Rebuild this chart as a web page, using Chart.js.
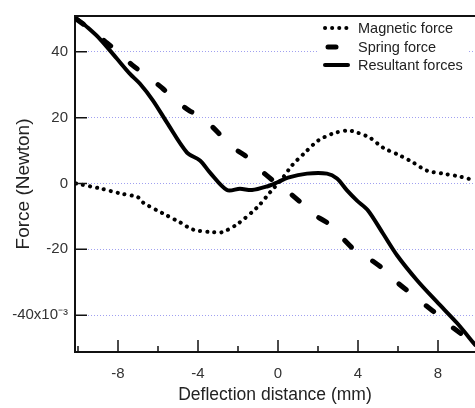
<!DOCTYPE html>
<html>
<head>
<meta charset="utf-8">
<script src="https://cdn.jsdelivr.net/npm/chart.js@4"></script>
<style>
  body { margin: 0; background: #fff; }
  #wrap { width: 475px; height: 408px; }
</style>
</head>
<body>
<div id="wrap"><canvas id="myChart"></canvas></div>
<script>
// deflection (mm) and force (x10^-3 N)
const magX = [-10.1, -8.9, -7.9, -7.0, -6.75, -5.75, -4.9, -4.25, -3.25, -2.8, -2.05, -1.05, -0.4, 0.25, 0.7, 1.35, 2.0, 2.75, 3.5, 3.95, 4.6, 5.25, 6.1, 6.75, 7.45, 8.25, 9.1, 9.85];
const magY = [0, -1.5, -3, -4.2, -5.8, -9.1, -11.8, -14, -14.8, -14.8, -12.4, -7.3, -2.7, 1.8, 5.5, 9.4, 13, 15.2, 16.1, 15.5, 13.9, 10.9, 8.5, 6.4, 3.9, 3, 2.1, 0.9];

const springX = [-10.1, -9.3, -8.55, -8.05, -7.25, -6.75, -5.75, -5.3, -4.4, -3.9, -3.0, -2.55, -1.65, -1.15, -0.25, 0.25, 1.2, 1.7, 2.5, 3.1, 3.95, 4.45, 5.35, 5.95, 6.75, 7.25, 8.2, 8.7, 9.6, 9.85];
const springY = [50, 46.5, 42.7, 40.3, 35.8, 33.6, 28.8, 26.1, 22, 20.6, 15.5, 12.1, 8.5, 5.5, 0.9, -1.2, -6.1, -9.1, -12.1, -15.8, -20.9, -22.4, -26.4, -30, -33.9, -36.4, -40.9, -43.6, -47.6, -49.1];

const resX = [-10.1, -9.5, -8.9, -8.05, -7.4, -6.9, -6.25, -5.55, -4.55, -3.9, -3.4, -2.55, -1.9, -1.3, -0.55, -0.05, 0.5, 1.45, 2.45, 2.95, 3.45, 3.95, 4.5, 5.25, 5.95, 6.95, 7.95, 8.95, 9.85];
const resY = [50.3, 47.3, 43.9, 37.9, 33.3, 30.3, 25.2, 18.5, 9.4, 7, 3.3, -2.0, -1.6, -2.0, -0.9, 0.3, 1.8, 3, 3, 1.5, -2.1, -5.2, -8.2, -15.2, -21.8, -29.4, -36, -42.4, -49];

const labels = ['Magnetic force', 'Spring force', 'Resultant forces'];
const xMajor = [-8, -4, 0, 4, 8];
const xMinor = [-10, -6, -2, 2, 6];
const yTicks = [-40, -20, 0, 20, 40];

const pts = (xs, ys) => xs.map((x, i) => ({x: x, y: ys[i]}));
const font = 'Liberation Sans, Arial, sans-serif';

const dashes = [[0.1, 7], [9, 26], []];
const widths = [4, 5, 4];

// inside tick marks, top frame line and legend
const decor = {
  id: 'decor',
  afterDraw(chart) {
    const c = chart.ctx, a = chart.chartArea;
    const xs = chart.scales.x, ys = chart.scales.y;
    c.save();
    c.strokeStyle = '#111';
    c.lineWidth = 2;
    c.beginPath();
    c.moveTo(a.left - 1, a.top);
    c.lineTo(a.right, a.top);
    c.stroke();
    c.lineWidth = 1.5;
    c.beginPath();
    yTicks.forEach(v => { const p = ys.getPixelForValue(v); c.moveTo(a.left, p); c.lineTo(a.left + 12, p); });
    xMajor.forEach(v => { const p = xs.getPixelForValue(v); c.moveTo(p, a.bottom); c.lineTo(p, a.bottom - 12); });
    xMinor.forEach(v => { const p = xs.getPixelForValue(v); c.moveTo(p, a.bottom); c.lineTo(p, a.bottom - 6); });
    c.stroke();

    const ly = [28, 47, 65];
    c.fillStyle = '#fff';
    c.fillRect(318, 18, 150, 58);
    c.font = '14.5px ' + font;
    c.textBaseline = 'middle';
    c.lineCap = 'round';
    labels.forEach((t, i) => {
      c.strokeStyle = '#000';
      c.lineWidth = widths[i];
      c.setLineDash(dashes[i]);
      c.beginPath();
      if (i === 1) { c.moveTo(328, ly[i]); c.lineTo(336, ly[i]); }
      else { c.moveTo(325, ly[i]); c.lineTo(348, ly[i]); }
      c.stroke();
      c.setLineDash([]);
      c.fillStyle = '#222';
      c.fillText(t, 358, ly[i] + 1);
    });
    c.restore();
  }
};

const ctx = document.getElementById('myChart');
new Chart(ctx, {
  type: 'line',
  data: {
    datasets: [
      { label: labels[0], data: pts(magX, magY), borderDash: dashes[0], borderWidth: widths[0] },
      { label: labels[1], data: pts(springX, springY), borderDash: dashes[1], borderWidth: widths[1] },
      { label: labels[2], data: pts(resX, resY), borderDash: dashes[2], borderWidth: widths[2] }
    ].map(d => Object.assign(d, { borderColor: '#000', borderCapStyle: 'round', borderJoinStyle: 'round', pointRadius: 0, tension: 0.3, fill: false }))
  },
  options: {
    responsive: true,
    maintainAspectRatio: false,
    animation: false,
    layout: { padding: { top: 15, right: 0, left: 0, bottom: 0 } },
    plugins: { legend: { display: false }, tooltip: { enabled: false } },
    scales: {
      x: {
        type: 'linear',
        min: -10.15,
        max: 9.85,
        afterFit: s => { s.height = 56; },
        afterBuildTicks: s => { s.ticks = xMajor.map(v => ({ value: v })); },
        grid: { display: false, drawTicks: false },
        border: { color: '#111', width: 2 },
        ticks: {
          padding: 13,
          color: '#333',
          font: { family: font, size: 15 }
        },
        title: { display: true, text: 'Deflection distance (mm)', color: '#222', font: { family: font, size: 17.5 }, padding: { bottom: 2 } }
      },
      y: {
        min: -51.2,
        max: 50.9,
        afterFit: s => { s.width = 75; },
        afterBuildTicks: s => { s.ticks = yTicks.map(v => ({ value: v })); },
        grid: { color: '#a0a0f0', lineWidth: 1, drawTicks: false },
        border: { color: '#111', width: 2, dash: [1, 2] },
        ticks: {
          padding: 7,
          color: '#333',
          font: { family: font, size: 15 },
          callback: v => v === -40 ? '-40x10\u207B\u00B3' : v
        },
        title: { display: true, text: 'Force (Newton)', color: '#222', font: { family: font, size: 19 }, padding: { top: 12 } }
      }
    }
  },
  plugins: [decor]
});
</script>
</body>
</html>
